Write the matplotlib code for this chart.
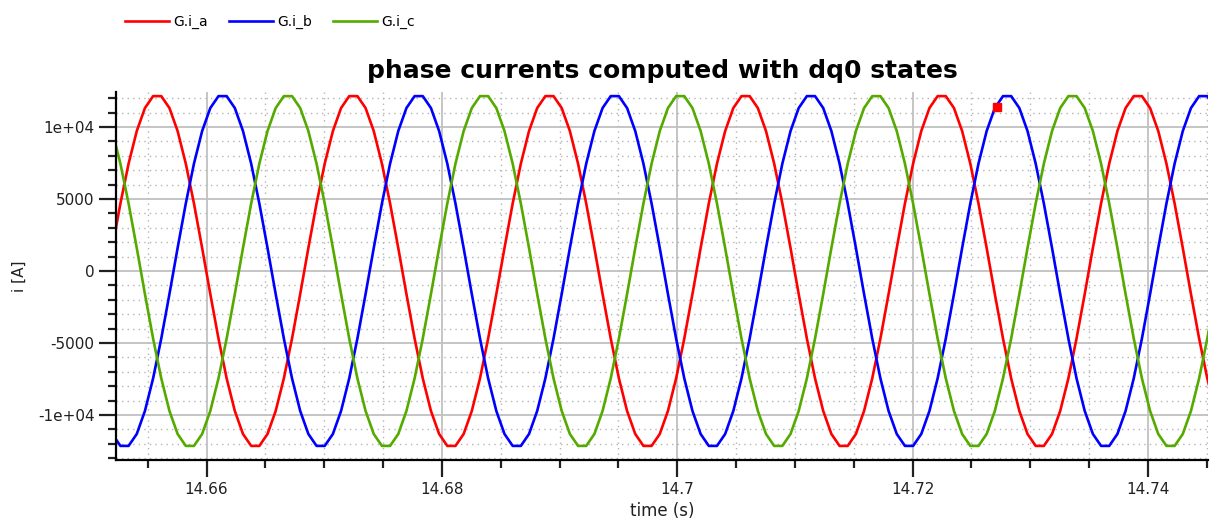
import numpy as np
import matplotlib
matplotlib.use("Agg")
import matplotlib.pyplot as plt
from matplotlib.ticker import MultipleLocator

# samples (one every ~0.000694 s)
t_start = 14.65129
t_step = 0.00069444

i_a = [
    -1599, 1599, 4688, 7457, 9719, 11318, 12145, 12145, 11318, 9719, 7457, 4688,
    1599, -1599, -4688, -7457, -9719, -11318, -12145, -12145, -11318, -9719, -7457, -4688,
    -1599, 1599, 4688, 7457, 9719, 11318, 12145, 12145, 11318, 9719, 7457, 4688,
    1599, -1599, -4688, -7457, -9719, -11318, -12145, -12145, -11318, -9719, -7457, -4688,
    -1599, 1599, 4688, 7457, 9719, 11318, 12145, 12145, 11318, 9719, 7457, 4688,
    1599, -1599, -4688, -7457, -9719, -11318, -12145, -12145, -11318, -9719, -7457, -4688,
    -1599, 1599, 4688, 7457, 9719, 11318, 12145, 12145, 11318, 9719, 7457, 4688,
    1599, -1599, -4688, -7457, -9719, -11318, -12145, -12145, -11318, -9719, -7457, -4688,
    -1599, 1599, 4688, 7457, 9719, 11318, 12145, 12145, 11318, 9719, 7457, 4688,
    1599, -1599, -4688, -7457, -9719, -11318, -12145, -12145, -11318, -9719, -7457, -4688,
    -1599, 1599, 4688, 7457, 9719, 11318, 12145, 12145, 11318, 9719, 7457, 4688,
    1599, -1599, -4688, -7457, -9719,
]

i_b = [
    -9719, -11318, -12145, -12145, -11318, -9719, -7457, -4688,
    -1599, 1599, 4688, 7457, 9719, 11318, 12145, 12145, 11318, 9719, 7457, 4688,
    1599, -1599, -4688, -7457, -9719, -11318, -12145, -12145, -11318, -9719, -7457, -4688,
    -1599, 1599, 4688, 7457, 9719, 11318, 12145, 12145, 11318, 9719, 7457, 4688,
    1599, -1599, -4688, -7457, -9719, -11318, -12145, -12145, -11318, -9719, -7457, -4688,
    -1599, 1599, 4688, 7457, 9719, 11318, 12145, 12145, 11318, 9719, 7457, 4688,
    1599, -1599, -4688, -7457, -9719, -11318, -12145, -12145, -11318, -9719, -7457, -4688,
    -1599, 1599, 4688, 7457, 9719, 11318, 12145, 12145, 11318, 9719, 7457, 4688,
    1599, -1599, -4688, -7457, -9719, -11318, -12145, -12145, -11318, -9719, -7457, -4688,
    -1599, 1599, 4688, 7457, 9719, 11318, 12145, 12145, 11318, 9719, 7457, 4688,
    1599, -1599, -4688, -7457, -9719, -11318, -12145, -12145, -11318, -9719, -7457, -4688,
    -1599, 1599, 4688, 7457, 9719, 11318, 12145, 12145, 11318,
]

i_c = [
    11318, 9719, 7457, 4688,
    1599, -1599, -4688, -7457, -9719, -11318, -12145, -12145, -11318, -9719, -7457, -4688,
    -1599, 1599, 4688, 7457, 9719, 11318, 12145, 12145, 11318, 9719, 7457, 4688,
    1599, -1599, -4688, -7457, -9719, -11318, -12145, -12145, -11318, -9719, -7457, -4688,
    -1599, 1599, 4688, 7457, 9719, 11318, 12145, 12145, 11318, 9719, 7457, 4688,
    1599, -1599, -4688, -7457, -9719, -11318, -12145, -12145, -11318, -9719, -7457, -4688,
    -1599, 1599, 4688, 7457, 9719, 11318, 12145, 12145, 11318, 9719, 7457, 4688,
    1599, -1599, -4688, -7457, -9719, -11318, -12145, -12145, -11318, -9719, -7457, -4688,
    -1599, 1599, 4688, 7457, 9719, 11318, 12145, 12145, 11318, 9719, 7457, 4688,
    1599, -1599, -4688, -7457, -9719, -11318, -12145, -12145, -11318, -9719, -7457, -4688,
    -1599, 1599, 4688, 7457, 9719, 11318, 12145, 12145, 11318, 9719, 7457, 4688,
    1599, -1599, -4688, -7457, -9719, -11318, -12145, -12145, -11318, -9719, -7457, -4688,
    -1599,
]

series_names = ["G.i_a", "G.i_b", "G.i_c"]
series_colors = ["#ff0000", "#0000ff", "#55aa00"]

# marker point shown on the chart
marker_t = 14.7272
marker_i = 11400

y_ticks = [-10000, -5000, 0, 5000, 10000]
y_tick_labels = ["-1e+04", "-5000", "0", "5000", "1e+04"]
x_ticks = [14.66, 14.68, 14.70, 14.72, 14.74]
x_tick_labels = ["14.66", "14.68", "14.7", "14.72", "14.74"]

time = t_start + t_step * np.arange(len(i_a))

fig = plt.figure(figsize=(12.18, 5.31), dpi=100)
ax = fig.add_axes([0.0952, 0.1337, 0.8966, 0.693])

lines = []
for vals, name, col in zip([i_a, i_b, i_c], series_names, series_colors):
    ln, = ax.plot(time, vals, color=col, lw=1.9, label=name)
    lines.append(ln)
ax.plot([marker_t], [marker_i], "s", color="#ff0000", ms=6)

ax.set_xlim(14.6523, 14.7451)
ax.set_ylim(-13125, 12430)

ax.set_xticks(x_ticks)
ax.set_xticklabels(x_tick_labels)
ax.set_yticks(y_ticks)
ax.set_yticklabels(y_tick_labels)
ax.xaxis.set_minor_locator(MultipleLocator(0.005))
ax.yaxis.set_minor_locator(MultipleLocator(1000))

ax.grid(which="major", color="#c0c0c0", lw=1.3, ls="-")
ax.grid(which="minor", color="#b4b4b4", lw=1.0, ls=(0, (1, 3)))
ax.set_axisbelow(True)

for s in ["top", "right"]:
    ax.spines[s].set_visible(False)
for s in ["left", "bottom"]:
    ax.spines[s].set_linewidth(1.6)
ax.tick_params(which="major", length=12, width=1.6, labelsize=11,
               color="#202020", labelcolor="#202020")
ax.tick_params(which="minor", length=6, width=1.6, color="#202020")

ax.set_title("phase currents computed with dq0 states", fontsize=18,
             fontweight="bold", pad=10)
ax.set_xlabel("time (s)", fontsize=12, labelpad=4, color="#202020")
ax.set_ylabel("i [A]", fontsize=11, labelpad=8, color="#202020")

fig.legend(handles=lines, loc="upper left", bbox_to_anchor=(0.092, 0.995),
           ncol=3, frameon=False, fontsize=10, handlelength=3.2,
           handletextpad=0.3, columnspacing=1.5)

fig.savefig("out.png", dpi=100)
